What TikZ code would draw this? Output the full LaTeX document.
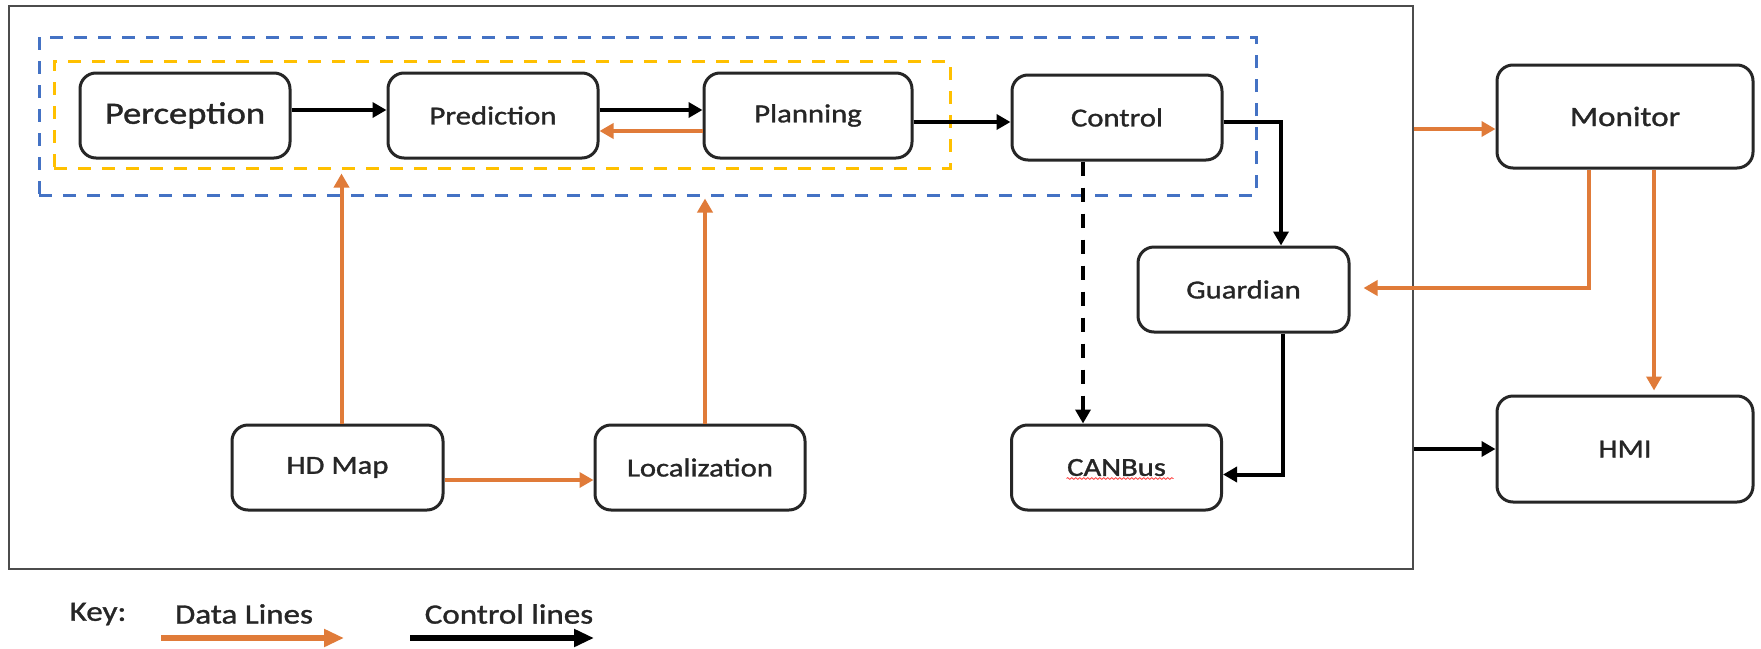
\documentclass[tikz,border=0pt]{standalone}
\usepackage{fontspec}
\setmainfont{Carlito}[FakeStretch=1.18,FakeBold=1.2]
\usetikzlibrary{arrows.meta,calc,decorations.pathmorphing}

\definecolor{dataor}{HTML}{E07B39}
\definecolor{grpblue}{HTML}{4472C4}
\definecolor{grpyel}{HTML}{FFC000}

\tikzset{
  blk/.style={draw=black!85, line width=3pt, rounded corners=16pt,
    minimum width=210pt, minimum height=85pt, inner sep=0pt,
    font=\fontsize{26}{30}\selectfont, text=black!85},
  data/.style={draw=dataor, line width=4pt,
    -{Triangle[length=14pt,width=15pt]}},
  ctrlarrow/.style={draw=black, line width=4pt,
    -{Triangle[length=14pt,width=15pt]}},
  grpbox/.style={line width=3pt, dash pattern=on 13pt off 11pt,
    inner sep=0pt, fill=none},
  keytext/.style={font=\fontsize{28}{32}\selectfont, text=black!85, inner sep=0pt},
  keyarrow/.style={line width=5.5pt, -{Triangle[length=20pt,width=17pt]}}
}

\begin{document}
\begin{tikzpicture}[x=1pt,y=-1pt]
\useasboundingbox[fill=white] (0,0) rectangle (1761,648);

% system frame
\node[draw=black!70, line width=2pt, minimum width=1404pt, minimum height=563pt,
  inner sep=0pt] (frame) at (711,287.5) {};

% module groups
\node[grpbox, draw=grpblue, minimum width=1217pt, minimum height=158pt] (outergrp) at (647.5,116) {};
\node[grpbox, draw=grpyel, minimum width=896pt, minimum height=107pt] (innergrp) at (502,114.5) {};

% modules
\node[blk, font=\fontsize{31}{36}\selectfont] (perc) at (185,115.5) {Perception};
\node[blk] (pred) at (493,115.5) {Prediction};
\node[blk, minimum width=208pt] (plan) at (808,115.5) {Planning};
\node[blk] (ctrl) at (1117,117.5) {Control};
\node[blk, minimum width=211pt] (guard) at (1243.5,289.5) {Guardian};
\node[blk] (canb) at (1116.5,467.5) {CANBus};
\node[blk, minimum width=211pt] (hdmap) at (337.5,467.5) {HD Map};
\node[blk] (loc) at (700,467.5) {Localization};
\node[blk, minimum width=256pt, minimum height=103pt,
  font=\fontsize{28}{32}\selectfont] (mon) at (1625,116.5) {Monitor};
\node[blk, minimum width=256pt, minimum height=106pt] (hmi) at (1625,449) {HMI};

% spell-check squiggle under CANBus
\draw[red!75, line width=0.8pt, decorate,
  decoration={snake, amplitude=0.9pt, segment length=4pt}]
  ($(canb.center)+(-50,11)$) -- ($(canb.center)+(57,11)$);

% control lines
\draw[ctrlarrow] ($(perc.east)+(0,-5.5)$) -- ($(pred.west)+(0,-5.5)$);
\draw[ctrlarrow] ($(pred.east)+(0,-5.5)$) -- ($(plan.west)+(0,-5.5)$);
\draw[ctrlarrow] ($(plan.east)+(0,6.5)$) -- ($(ctrl.west)+(0,4.5)$);
\draw[ctrlarrow] ($(ctrl.east)+(0,4.5)$) -| ($(guard.north)+(37.5,0)$);
\draw[ctrlarrow, dash pattern=on 14pt off 12pt]
  ($(ctrl.south)+(-34,0)$) -- ($(canb.north)+(-33.5,0)$);
\draw[ctrlarrow] ($(guard.south)+(39.5,0)$) |- ($(canb.east)+(0,7)$);
\draw[ctrlarrow, line width=4.5pt] (frame.east |- hmi.west) -- (hmi.west);

% data lines
\draw[data] ($(plan.west)+(0,15.5)$) -- ($(pred.east)+(0,15.5)$);
\draw[data] ($(hdmap.north)+(4,0)$) -- ($(innergrp.south -| hdmap.north)+(4,4)$);
\draw[data] ($(loc.north)+(5,0)$) -- ($(outergrp.south -| loc.north)+(5,2)$);
\draw[data] ($(hdmap.east)+(0,12.5)$) -- ($(loc.west)+(0,12.5)$);
\draw[data] ($(frame.east |- mon.west)+(0,12.5)$) -- ($(mon.west)+(0,12.5)$);
\draw[data] ($(mon.south)+(-36,0)$) |- ($(guard.east)+(13,-1.5)$);
\draw[data] ($(mon.south)+(29,0)$) -- ($(hmi.north)+(29,-4)$);

% key
\node[keytext] (keylbl) at (98,614) {Key:};
\node[keytext] (datalbl) at (244,614) {Data Lines};
\node[keytext] (ctrllbl) at (509,614) {Control lines};
\coordinate (d0) at (161,638);
\coordinate (d1) at (344,638);
\coordinate (c0) at (410,638);
\coordinate (c1) at (594,638);
\draw[keyarrow, draw=dataor, fill=dataor] (d0) -- (d1);
\draw[keyarrow, draw=black] (c0) -- (c1);
\end{tikzpicture}
\end{document}
